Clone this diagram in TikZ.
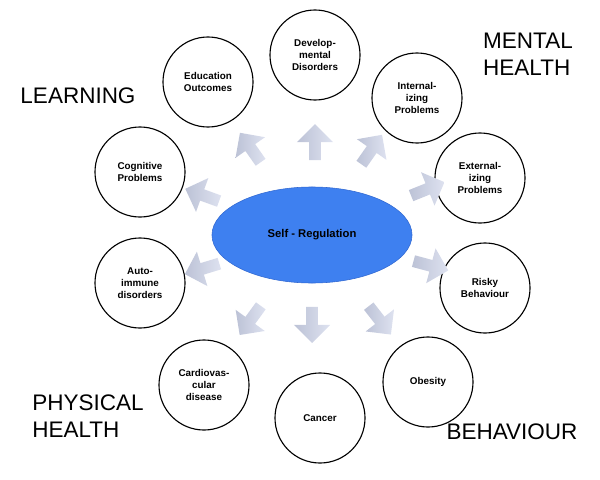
\documentclass[tikz,border=0pt]{standalone}
\usepackage{fontspec}
\setmainfont{Liberation Sans}
\usetikzlibrary{shapes.geometric,shapes.arrows}
\definecolor{selfblue}{RGB}{62,128,240}
\definecolor{selfedge}{RGB}{50,105,210}
\definecolor{pushlight}{RGB}{222,226,240}
\definecolor{pushdark}{RGB}{188,194,214}
\tikzset{
  outcome/.style={draw=black,line width=0.8pt,circle,minimum size=2.25cm,inner sep=0pt,
    align=center,font=\fontsize{7}{8.5}\selectfont\bfseries},
  push/.style={single arrow,draw=none,minimum height=0.9cm,minimum width=0.9cm,
    single arrow head extend=0.12cm,inner sep=1.5pt,
    left color=pushdark,right color=pushlight},
  field/.style={font=\fontsize{16}{19}\selectfont,align=left}
}
\begin{document}
\begin{tikzpicture}[x=0.025cm,y=-0.025cm]
  \useasboundingbox (0,0) rectangle (600,480);
  % central node
  \node[ellipse,fill=selfblue,draw=selfedge,
    minimum width=5cm,minimum height=2.4cm,font=\fontsize{8}{10}\selectfont\bfseries] (self) at (312,235) {Self - Regulation};
  % outcomes
  \node[outcome] (edu) at (208,82) {Education\\Outcomes};
  \node[outcome] (dev) at (315,55) {Develop-\\mental\\Disorders};
  \node[outcome] (int) at (417,98) {Internal-\\izing\\Problems};
  \node[outcome] (ext) at (480,178) {External-\\izing\\Problems};
  \node[outcome] (risk) at (485,288) {Risky\\Behaviour};
  \node[outcome] (obe) at (428,382) {Obesity};
  \node[outcome] (can) at (320,418) {Cancer};
  \node[outcome] (card) at (204,385) {Cardiovas-\\cular\\disease};
  \node[outcome] (auto) at (140,283) {Auto-\\immune\\disorders};
  \node[outcome] (cog) at (140,172) {Cognitive\\Problems};
  % arrows
  \foreach \x/\y/\a in {252/150/125,315/145/90,370/152/55,425/190/22,428/265/-15,
      378/318/-52,312/322/-90,252/318/-126,205/268/-163,205/196/160}
    \node[push,rotate=\a] at (\x,\y) {};
  % domains
  \node[field] (learn) at (78,96) {LEARNING};
  \node[field] (mental) at (528,54) {MENTAL\\HEALTH};
  \node[field] (phys) at (88,416) {PHYSICAL\\HEALTH};
  \node[field] (beh) at (512,432) {BEHAVIOUR};
\end{tikzpicture}
\end{document}
